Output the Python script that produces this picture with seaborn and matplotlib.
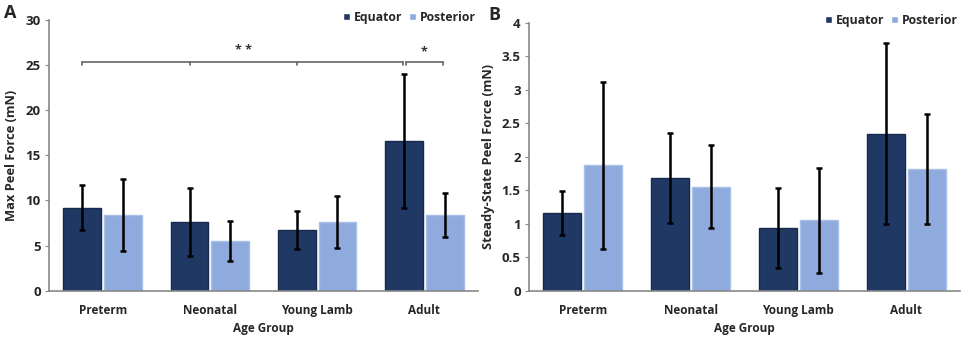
import numpy as np
import pandas as pd
import matplotlib.pyplot as plt
import seaborn as sns

groups = ['Preterm', 'Neonatal', 'Young Lamb', 'Adult']
regions = ['Equator', 'Posterior']

# panel A - max peel force (mN)
max_eq = [9.2, 7.6, 6.7, 16.6]
max_eq_sd = [2.5, 3.8, 2.1, 7.45]
max_post = [8.4, 5.5, 7.6, 8.4]
max_post_sd = [3.95, 2.25, 2.9, 2.45]

# panel B - steady-state peel force (mN)
ss_eq = [1.16, 1.68, 0.94, 2.34]
ss_eq_sd = [0.33, 0.67, 0.60, 1.35]
ss_post = [1.87, 1.55, 1.05, 1.81]
ss_post_sd = [1.245, 0.62, 0.78, 0.82]

dark = '#203864'
light = '#8faadc'
edge_cols = {'Equator': '#172a4d', 'Posterior': '#a9c0e6'}

sns.set_style('white')
plt.rcParams['font.family'] = ['Open Sans', 'DejaVu Sans']
plt.rcParams['font.weight'] = 'bold'


def make_df(eq, eq_sd, post, post_sd):
    return pd.DataFrame({
        'Age Group': groups * 2,
        'Region': ['Equator'] * 4 + ['Posterior'] * 4,
        'Force': eq + post,
        'SD': eq_sd + post_sd,
    })


def draw_panel(ax, df, ymax, ystep, ylabel):
    sns.barplot(data=df, x='Age Group', y='Force', hue='Region', order=groups,
                hue_order=regions, palette=[dark, light], errorbar=None,
                width=0.76, gap=0.07, saturation=1, ax=ax)
    # error bars at bar centres, outlines per series
    for cont, reg in zip(ax.containers, regions):
        sds = df[df['Region'] == reg]['SD'].values
        xs, ys = [], []
        for p in cont.patches:
            p.set_edgecolor(edge_cols[reg])
            p.set_linewidth(1.0)
            xs.append(p.get_x() + p.get_width() / 2)
            ys.append(p.get_height())
        ax.errorbar(xs, ys, yerr=sds, fmt='none', ecolor='black',
                    elinewidth=1.8, capsize=2.5, capthick=1.8, zorder=5)
    ax.set_ylim(0, ymax)
    ax.set_xlim(-0.5, 3.5)
    ticks = np.arange(0, ymax + ystep / 2, ystep)
    ax.set_yticks(ticks)
    ax.set_yticklabels([f'{v:g}' for v in ticks])
    ax.tick_params(axis='y', left=True, length=3, width=0.8, color='#888888',
                   labelsize=9.5, pad=3)
    ax.tick_params(axis='x', bottom=False, labelsize=8.5, pad=6)
    for lab in ax.get_xticklabels() + ax.get_yticklabels():
        lab.set_fontweight('bold')
    ax.set_ylabel(ylabel, fontsize=9.3, fontweight='bold', labelpad=5)
    ax.set_xlabel('Age Group', fontsize=8.5, fontweight='bold', labelpad=4)
    sns.despine(ax=ax)
    for s in ['left', 'bottom']:
        ax.spines[s].set_color('#888888')
        ax.spines[s].set_linewidth(1.2)
    leg = ax.legend(loc='upper right', bbox_to_anchor=(1.012, 1.06), ncol=2,
                    frameon=False, fontsize=8.8, handlelength=0.55,
                    handleheight=0.55, handletextpad=0.3, columnspacing=0.6,
                    borderaxespad=0.2)
    for t in leg.get_texts():
        t.set_fontweight('bold')


fig = plt.figure(figsize=(9.65, 3.39), dpi=100)
ax1 = fig.add_axes([0.0508, 0.1425, 0.4445, 0.7985])
ax2 = fig.add_axes([0.5482, 0.1425, 0.4466, 0.7905])

df_a = make_df(max_eq, max_eq_sd, max_post, max_post_sd)
df_b = make_df(ss_eq, ss_eq_sd, ss_post, ss_post_sd)

draw_panel(ax1, df_a, 30, 5, 'Max Peel Force (mN)')
draw_panel(ax2, df_b, 4, 0.5, 'Steady-State Peel Force (mN)')

fig.text(0.004, 0.962, 'A', fontsize=13, fontweight='bold', ha='left', va='center')
fig.text(0.506, 0.955, 'B', fontsize=13, fontweight='bold', ha='left', va='center')

# significance brackets on panel A
eq_x = [p.get_x() + p.get_width() / 2 for p in ax1.containers[0].patches]
post_x = [p.get_x() + p.get_width() / 2 for p in ax1.containers[1].patches]
yb, tick = 25.4, 0.35
brk = dict(color='#666666', lw=1.2)
ax1.plot([eq_x[0], eq_x[3] - 0.01], [yb, yb], **brk)
for x in [eq_x[0], eq_x[1], eq_x[2], eq_x[3] - 0.01]:
    ax1.plot([x, x], [yb, yb - tick], **brk)
ax1.plot([eq_x[3] + 0.02, post_x[3] - 0.02], [yb, yb], **brk)
for x in [eq_x[3] + 0.02, post_x[3] - 0.02]:
    ax1.plot([x, x], [yb, yb - tick], **brk)
ax1.text((eq_x[1] + eq_x[2]) / 2, yb + 0.5, '* *', ha='center', va='bottom',
         fontsize=9, color='#333333')
ax1.text((eq_x[3] + post_x[3]) / 2, yb + 0.4, '*', ha='center', va='bottom',
         fontsize=9, color='#333333')

fig.savefig('out.png', dpi=100)
